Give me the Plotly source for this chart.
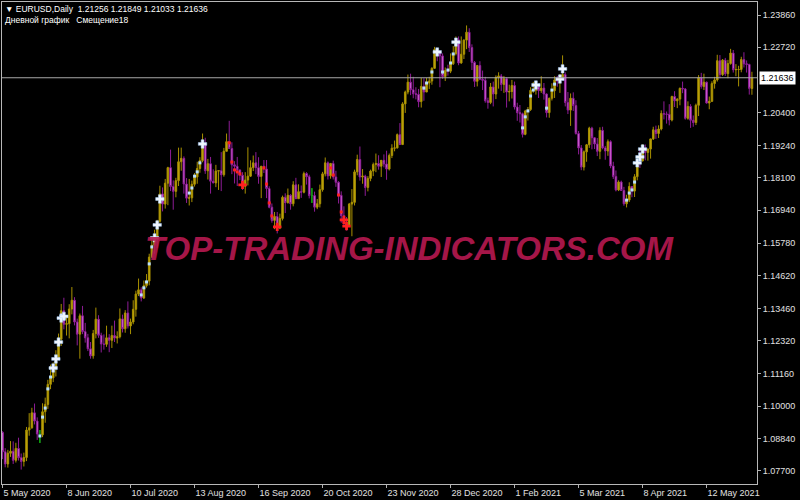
import pandas as pd
import plotly.graph_objects as go

# ---------------- data ----------------
symbol_line = "EURUSD,Daily\u00a0\u00a01.21256 1.21849 1.21033 1.21636"
subtitle_line = "Дневной график\u00a0\u00a0\u00a0Смещение18"
watermark = "TOP-TRADING-INDICATORS.COM"

tick_labels = ["5 May 2020", "8 Jun 2020", "10 Jul 2020", "13 Aug 2020", "16 Sep 2020",
               "20 Oct 2020", "23 Nov 2020", "28 Dec 2020", "1 Feb 2021", "5 Mar 2021",
               "8 Apr 2021", "12 May 2021"]
price_ticks = [1.0770, 1.0884, 1.1000, 1.1116, 1.1232, 1.1346, 1.1462, 1.1578, 1.1694,
               1.1810, 1.1924, 1.2040, 1.2272, 1.2386]
last_price = 1.21636

opens = [
 1.0907,1.0838,1.0795,1.0833,1.0840,1.0808,1.0850,1.0817,1.0804,1.0818,
 1.0915,1.0923,1.0976,1.0947,1.0901,1.0898,1.0980,1.1006,1.1077,1.1100,
 1.1134,1.1168,1.1237,1.1338,1.1290,1.1292,1.1344,1.1375,1.1298,1.1255,
 1.1320,1.1264,1.1242,1.1203,1.1178,1.1257,1.1308,1.1251,1.1220,1.1219,
 1.1242,1.1233,1.1250,1.1241,1.1246,1.1309,1.1274,1.1330,1.1284,1.1298,
 1.1343,1.1397,1.1412,1.1383,1.1427,1.1443,1.1528,1.1570,1.1595,1.1655,
 1.1752,1.1716,1.1790,1.1845,1.1778,1.1761,1.1799,1.1866,1.1878,1.1787,
 1.1737,1.1738,1.1786,1.1812,1.1842,1.1870,1.1930,1.1834,1.1859,1.1797,
 1.1791,1.1833,1.1834,1.1820,1.1903,1.1937,1.1913,1.1855,1.1850,1.1837,
 1.1818,1.1779,1.1801,1.1815,1.1845,1.1862,1.1845,1.1814,1.1850,1.1840,
 1.1771,1.1705,1.1658,1.1672,1.1631,1.1665,1.1740,1.1721,1.1747,1.1717,
 1.1784,1.1735,1.1760,1.1758,1.1824,1.1813,1.1746,1.1746,1.1705,1.1717,
 1.1767,1.1823,1.1862,1.1816,1.1860,1.1812,1.1793,1.1747,1.1675,1.1647,
 1.1641,1.1716,1.1722,1.1830,1.1874,1.1812,1.1815,1.1775,1.1807,1.1833,
 1.1856,1.1860,1.1850,1.1871,1.1858,1.1840,1.1888,1.1914,1.1915,1.1962,
 1.1927,1.2071,1.2113,1.2148,1.2121,1.2107,1.2105,1.2079,1.2133,1.2113,
 1.2145,1.2152,1.2197,1.2264,1.2255,1.2241,1.2168,1.2189,1.2187,1.2213,
 1.2249,1.2298,1.2216,1.2247,1.2297,1.2325,1.2271,1.2218,1.2151,1.2207,
 1.2158,1.2155,1.2082,1.2076,1.2131,1.2106,1.2165,1.2170,1.2140,1.2160,
 1.2113,1.2115,1.2136,1.2060,1.2040,1.2036,1.1963,1.2046,1.2051,1.2119,
 1.2119,1.2132,1.2118,1.2127,1.2106,1.2040,1.2091,1.2118,1.2156,1.2152,
 1.2166,1.2175,1.2076,1.2049,1.2091,1.2065,1.1966,1.1915,1.1847,1.1901,
 1.1926,1.1985,1.1951,1.1929,1.1903,1.1977,1.1915,1.1904,1.1937,1.1851,
 1.1814,1.1766,1.1794,1.1764,1.1717,1.1730,1.1778,1.1762,1.1813,1.1873,
 1.1869,1.1914,1.1899,1.1911,1.1947,1.1979,1.1966,1.1982,1.2037,1.2035,
 1.2034,1.2014,1.2097,1.2082,1.2088,1.2126,1.2124,1.2020,1.2062,1.2013,
 1.2005,1.2066,1.2164,1.2133,1.2148,1.2074,1.2080,1.2143,1.2156,1.2224,
 1.2175,1.2226,1.2178,1.2214,1.2251,1.2192,1.2193,1.2193,1.2228,1.2213,
 1.2211,1.21256]
highs = [
 1.0911,1.0851,1.0845,1.0876,1.0875,1.0870,1.0888,1.0832,1.0835,1.0926,
 1.0975,1.0994,1.1009,1.0960,1.0915,1.1010,1.1030,1.1093,1.1147,1.1155,
 1.1198,1.1257,1.1362,1.1384,1.1316,1.1361,1.1422,1.1386,1.1310,1.1328,
 1.1355,1.1295,1.1256,1.1227,1.1270,1.1349,1.1322,1.1260,1.1254,1.1285,
 1.1255,1.1285,1.1303,1.1265,1.1346,1.1324,1.1340,1.1371,1.1310,1.1375,
 1.1409,1.1452,1.1421,1.1445,1.1468,1.1540,1.1601,1.1625,1.1660,1.1781,
 1.1775,1.1805,1.1848,1.1909,1.1800,1.1809,1.1916,1.1916,1.1885,1.1808,
 1.1805,1.1799,1.1826,1.1866,1.1882,1.1966,1.1951,1.1876,1.1883,1.1839,
 1.1855,1.1835,1.1900,1.1915,1.1966,1.2011,1.1935,1.1868,1.1883,1.1838,
 1.1829,1.1829,1.1917,1.1871,1.1888,1.1900,1.1882,1.1850,1.1872,1.1872,
 1.1779,1.1718,1.1688,1.1688,1.1682,1.1746,1.1754,1.1771,1.1751,1.1797,
 1.1809,1.1786,1.1782,1.1831,1.1829,1.1820,1.1770,1.1760,1.1734,1.1785,
 1.1830,1.1881,1.1867,1.1860,1.1870,1.1834,1.1797,1.1761,1.1708,1.1670,
 1.1720,1.1769,1.1838,1.1891,1.1920,1.1840,1.1820,1.1815,1.1838,1.1863,
 1.1895,1.1889,1.1868,1.1892,1.1905,1.1895,1.1928,1.1941,1.1966,1.2003,
 1.2077,1.2118,1.2175,1.2178,1.2167,1.2130,1.2124,1.2163,1.2162,1.2163,
 1.2167,1.2201,1.2273,1.2268,1.2259,1.2250,1.2200,1.2210,1.2250,1.2276,
 1.2310,1.2310,1.2310,1.2300,1.2349,1.2339,1.2282,1.2223,1.2209,1.2222,
 1.2189,1.2167,1.2093,1.2145,1.2150,1.2172,1.2183,1.2177,1.2170,1.2165,
 1.2139,1.2156,1.2150,1.2075,1.2067,1.2040,1.2050,1.2060,1.2130,1.2149,
 1.2144,1.2140,1.2169,1.2145,1.2108,1.2093,1.2144,1.2169,1.2170,1.2177,
 1.2243,1.2183,1.2113,1.2108,1.2112,1.2084,1.1975,1.1925,1.1906,1.1929,
 1.1990,1.1990,1.1952,1.1950,1.1988,1.1990,1.1922,1.1945,1.1942,1.1866,
 1.1835,1.1800,1.1799,1.1777,1.1749,1.1793,1.1780,1.1822,1.1880,1.1914,
 1.1928,1.1927,1.1912,1.1946,1.1990,1.1994,1.1995,1.2048,1.2080,1.2044,
 1.2070,1.2100,1.2116,1.2091,1.2129,1.2150,1.2127,1.2080,1.2070,1.2030,
 1.2072,1.2173,1.2181,1.2178,1.2150,1.2097,1.2151,1.2167,1.2245,1.2244,
 1.2230,1.2234,1.2227,1.2266,1.2262,1.2212,1.2206,1.2238,1.2254,1.2225,
 1.2213,1.21849]
lows = [
 1.0812,1.0783,1.0782,1.0820,1.0795,1.0800,1.0807,1.0775,1.0786,1.0805,
 1.0895,1.0920,1.0935,1.0880,1.0870,1.0890,1.0941,1.0990,1.1060,1.1085,
 1.1105,1.1163,1.1213,1.1272,1.1250,1.1240,1.1325,1.1286,1.1215,1.1168,
 1.1255,1.1225,1.1195,1.1168,1.1168,1.1240,1.1242,1.1190,1.1200,1.1210,
 1.1191,1.1206,1.1227,1.1222,1.1240,1.1261,1.1260,1.1275,1.1255,1.1290,
 1.1317,1.1390,1.1371,1.1380,1.1420,1.1428,1.1525,1.1540,1.1560,1.1650,
 1.1690,1.1700,1.1712,1.1762,1.1696,1.1740,1.1780,1.1834,1.1753,1.1720,
 1.1711,1.1723,1.1778,1.1788,1.1827,1.1864,1.1823,1.1803,1.1753,1.1790,
 1.1776,1.1766,1.1762,1.1813,1.1903,1.1913,1.1822,1.1789,1.1780,1.1801,
 1.1766,1.1753,1.1782,1.1812,1.1833,1.1822,1.1788,1.1737,1.1826,1.1737,
 1.1701,1.1650,1.1627,1.1612,1.1627,1.1658,1.1684,1.1718,1.1696,1.1708,
 1.1735,1.1735,1.1738,1.1754,1.1785,1.1736,1.1721,1.1689,1.1698,1.1704,
 1.1760,1.1814,1.1803,1.1806,1.1803,1.1777,1.1718,1.1650,1.1640,1.1622,
 1.1640,1.1602,1.1711,1.1818,1.1799,1.1788,1.1745,1.1761,1.1797,1.1815,
 1.1829,1.1838,1.1812,1.1846,1.1802,1.1835,1.1879,1.1903,1.1913,1.1925,
 1.1925,1.2039,1.2105,1.2102,1.2091,1.2087,1.2059,1.2058,1.2082,1.2113,
 1.2124,1.2139,1.2195,1.2222,1.2130,1.2160,1.2152,1.2171,1.2180,1.2209,
 1.2243,1.2208,1.2213,1.2230,1.2265,1.2255,1.2191,1.2131,1.2133,1.2155,
 1.2120,1.2075,1.2054,1.2070,1.2062,1.2088,1.2125,1.2117,1.2110,1.2058,
 1.2080,1.2090,1.2051,1.2011,1.2005,1.1952,1.1960,1.2012,1.2046,1.2110,
 1.2104,1.2092,1.2110,1.2086,1.2023,1.2022,1.2083,1.2092,1.2132,1.2110,
 1.2164,1.2062,1.2035,1.1993,1.2046,1.1962,1.1892,1.1836,1.1835,1.1866,
 1.1915,1.1910,1.1911,1.1886,1.1875,1.1910,1.1873,1.1887,1.1843,1.1805,
 1.1761,1.1762,1.1763,1.1710,1.1704,1.1723,1.1740,1.1741,1.1800,1.1844,
 1.1867,1.1871,1.1870,1.1877,1.1943,1.1947,1.1950,1.1977,1.2016,1.2001,
 1.1995,1.2009,1.2060,1.2056,1.2066,1.2109,1.2015,1.2015,1.1986,1.1990,
 1.1996,1.2028,1.2125,1.2120,1.2072,1.2052,1.2078,1.2125,1.2150,1.2162,
 1.2170,1.2170,1.2162,1.2210,1.2182,1.2169,1.2133,1.2183,1.2200,1.2182,
 1.2104,1.21033]
closes = [
 1.0838,1.0795,1.0833,1.0840,1.0808,1.0850,1.0817,1.0804,1.0818,1.0915,
 1.0923,1.0976,1.0947,1.0901,1.0898,1.0980,1.1006,1.1077,1.1100,1.1134,
 1.1168,1.1237,1.1338,1.1290,1.1292,1.1344,1.1375,1.1298,1.1255,1.1320,
 1.1264,1.1242,1.1203,1.1178,1.1257,1.1308,1.1251,1.1220,1.1219,1.1242,
 1.1233,1.1250,1.1241,1.1246,1.1309,1.1274,1.1330,1.1284,1.1298,1.1343,
 1.1397,1.1412,1.1383,1.1427,1.1443,1.1528,1.1570,1.1595,1.1655,1.1752,
 1.1716,1.1790,1.1845,1.1778,1.1761,1.1799,1.1866,1.1878,1.1787,1.1737,
 1.1738,1.1786,1.1812,1.1842,1.1870,1.1930,1.1834,1.1859,1.1797,1.1791,
 1.1833,1.1834,1.1820,1.1903,1.1937,1.1913,1.1855,1.1850,1.1837,1.1818,
 1.1779,1.1801,1.1815,1.1845,1.1862,1.1845,1.1814,1.1850,1.1840,1.1771,
 1.1705,1.1658,1.1672,1.1631,1.1665,1.1740,1.1721,1.1747,1.1717,1.1784,
 1.1735,1.1760,1.1758,1.1824,1.1813,1.1746,1.1746,1.1705,1.1717,1.1767,
 1.1823,1.1862,1.1816,1.1860,1.1812,1.1793,1.1747,1.1675,1.1647,1.1641,
 1.1716,1.1722,1.1830,1.1874,1.1812,1.1815,1.1775,1.1807,1.1833,1.1856,
 1.1860,1.1850,1.1871,1.1858,1.1840,1.1888,1.1914,1.1915,1.1962,1.1927,
 1.2071,1.2113,1.2148,1.2121,1.2107,1.2105,1.2079,1.2133,1.2113,1.2145,
 1.2152,1.2197,1.2264,1.2255,1.2241,1.2168,1.2189,1.2187,1.2213,1.2249,
 1.2298,1.2216,1.2247,1.2297,1.2325,1.2271,1.2218,1.2151,1.2207,1.2158,
 1.2155,1.2082,1.2076,1.2131,1.2106,1.2165,1.2170,1.2140,1.2160,1.2113,
 1.2115,1.2136,1.2060,1.2040,1.2036,1.1963,1.2046,1.2051,1.2119,1.2119,
 1.2132,1.2118,1.2127,1.2106,1.2040,1.2091,1.2118,1.2156,1.2152,1.2166,
 1.2175,1.2076,1.2049,1.2091,1.2065,1.1966,1.1915,1.1847,1.1901,1.1926,
 1.1985,1.1951,1.1929,1.1903,1.1977,1.1915,1.1904,1.1937,1.1851,1.1814,
 1.1766,1.1794,1.1764,1.1717,1.1730,1.1778,1.1762,1.1813,1.1873,1.1869,
 1.1914,1.1899,1.1911,1.1947,1.1979,1.1966,1.1982,1.2037,1.2035,1.2034,
 1.2014,1.2097,1.2082,1.2088,1.2126,1.2124,1.2020,1.2062,1.2013,1.2005,
 1.2066,1.2164,1.2133,1.2148,1.2074,1.2080,1.2143,1.2156,1.2224,1.2175,
 1.2226,1.2178,1.2214,1.2251,1.2192,1.2193,1.2193,1.2228,1.2213,1.2211,
 1.2126,1.21636]

# indicator marks (bar index, price)
arrow_idx = [19, 20, 21, 22, 23, 57, 58, 59, 75, 163, 170, 200, 209, 210, 238, 239, 240]
arrow_px = [1.1135, 1.1167, 1.1227, 1.1312, 1.1318, 1.1596, 1.1642, 1.1734, 1.1929,
            1.2255, 1.2290, 1.2138, 1.2159, 1.2195, 1.1862, 1.1883, 1.1911]
dot_idx = [14, 15, 16, 17, 18, 52, 53, 54, 55, 56, 70, 71, 72, 73, 74, 158, 159, 161,
           165, 167, 168, 169, 195, 196, 197, 198, 199, 204, 206, 207, 234, 235, 236, 237]
dot_px = [1.0894, 1.0961, 1.0993, 1.1061, 1.1103, 1.1394, 1.1419, 1.1440, 1.1504, 1.1564,
          1.1755, 1.1773, 1.1815, 1.1830, 1.1862, 1.2127, 1.2145, 1.2184, 1.2184, 1.2191,
          1.2216, 1.2248, 1.1986, 1.2025, 1.2046, 1.2099, 1.2120, 1.2056, 1.2120, 1.2141,
          1.1730, 1.1755, 1.1766, 1.1794]
red_dot_idx = [85, 86, 87, 88, 89, 98, 99, 100, 101, 123, 124, 126, 127]
red_dot_px = [1.1933, 1.1865, 1.1837, 1.1830, 1.1823, 1.1844, 1.1787, 1.1720, 1.1674,
              1.1844, 1.1819, 1.1748, 1.1688]
red_cross_idx = [90, 103, 128, 129]
red_cross_px = [1.1784, 1.1635, 1.1660, 1.1638]
green_idx = [14, 116]
green_top = [1.0915, 1.1773]
green_bot = [1.0869, 1.1720]

# ---------------- build ----------------
dates = pd.bdate_range("2020-05-05", "2021-06-04")
dates = [d for d in dates if not (d.month == 12 and d.day == 25) and not (d.month == 1 and d.day == 1)]
date_lbl = [f"{d.day} {d.strftime('%b %Y')}" for d in dates]
xs = list(range(len(dates)))
tickvals = [date_lbl.index(t) for t in tick_labels]

fig = go.Figure()
fig.add_trace(go.Candlestick(
    x=xs, open=opens, high=highs, low=lows, close=closes,
    increasing=dict(line=dict(color="#a89000", width=1), fillcolor="#c4aa10"),
    decreasing=dict(line=dict(color="#8e1c96", width=1), fillcolor="#e67ee8"),
    whiskerwidth=0, hoverinfo="skip", showlegend=False))

gx, gy = [], []
for i, t, b in zip(green_idx, green_top, green_bot):
    gx += [i, i, None]
    gy += [t, b, None]
fig.add_trace(go.Scatter(x=gx, y=gy, mode="lines", line=dict(color="#00b000", width=1.5),
                         hoverinfo="skip", showlegend=False))
fig.add_trace(go.Scatter(x=dot_idx, y=dot_px, mode="markers",
                         marker=dict(symbol="square", size=3, color="#b8e0ff"),
                         hoverinfo="skip", showlegend=False))
fig.add_trace(go.Scatter(x=red_dot_idx, y=red_dot_px, mode="markers",
                         marker=dict(symbol="square", size=3, color="#ff2020"),
                         hoverinfo="skip", showlegend=False))
fig.add_trace(go.Scatter(x=red_cross_idx, y=red_cross_px, mode="markers",
                         marker=dict(symbol="cross", size=7, color="#ff2020"),
                         hoverinfo="skip", showlegend=False))
fig.add_trace(go.Scatter(x=arrow_idx, y=arrow_px, mode="markers",
                         marker=dict(symbol="cross", size=7, color="#f0f6ff",
                                     line=dict(color="#a8d0ff", width=0.5)),
                         hoverinfo="skip", showlegend=False))

fig.add_hline(y=last_price, line=dict(color="#a8a8a8", width=1))

axis_font = dict(family="Liberation Sans, Arial, sans-serif", size=9, color="#e0e0e0")

fig.update_layout(
    width=800, height=500,
    margin=dict(l=2, r=43, t=2, b=16),
    paper_bgcolor="#000000", plot_bgcolor="#000000",
    showlegend=False,
    boxgap=0.15,
    xaxis=dict(range=[-0.2, 282.9], tickmode="array", tickvals=tickvals, ticktext=tick_labels,
               ticks="outside", ticklen=3, tickcolor="#b0b0b0", tickfont=axis_font,
               ticklabelposition="outside right",
               showgrid=False, zeroline=False, showline=True, linecolor="#b8b8b8",
               linewidth=1, mirror=True, rangeslider=dict(visible=False), fixedrange=True),
    yaxis=dict(range=[1.07239, 1.24321], side="right", tickmode="array",
               tickvals=price_ticks, ticktext=[f"{v:.5f}" for v in price_ticks],
               ticks="outside", ticklen=3, tickcolor="#b0b0b0", tickfont=axis_font,
               showgrid=False, zeroline=False, showline=True, linecolor="#b8b8b8",
               linewidth=1, mirror=True, fixedrange=True),
)

fig.add_annotation(xref="paper", yref="y", x=1, y=last_price, xanchor="left", yanchor="middle",
                   xshift=2, text=f"{last_price:.5f}", showarrow=False,
                   bgcolor="#ffffff", borderpad=1,
                   font=dict(family="Liberation Sans, Arial, sans-serif", size=9, color="#000000"))

fig.add_annotation(xref="paper", yref="paper", x=0, y=1, xanchor="left", yanchor="top",
                   xshift=1, yshift=0, text="▼\u00a0" + symbol_line, showarrow=False,
                   font=dict(family="Liberation Sans, Arial, sans-serif", size=8.5, color="#ffffff"))
fig.add_annotation(xref="paper", yref="paper", x=0, y=1, xanchor="left", yanchor="top",
                   xshift=1, yshift=-11, text=subtitle_line, showarrow=False,
                   font=dict(family="Liberation Sans, Arial, sans-serif", size=8.5, color="#ffffff"))

fig.add_annotation(xref="paper", yref="paper", x=0.540, y=0.4876, xanchor="center", yanchor="middle",
                   text=watermark, showarrow=False, opacity=0.92,
                   font=dict(family="Liberation Sans, Arial, sans-serif", size=33, color="#b3184f",
                             weight="bold", style="italic"))

fig.write_html("out.html", config={"displayModeBar": False},
               post_script="document.body.style.margin='0';document.body.style.overflow='hidden';")
